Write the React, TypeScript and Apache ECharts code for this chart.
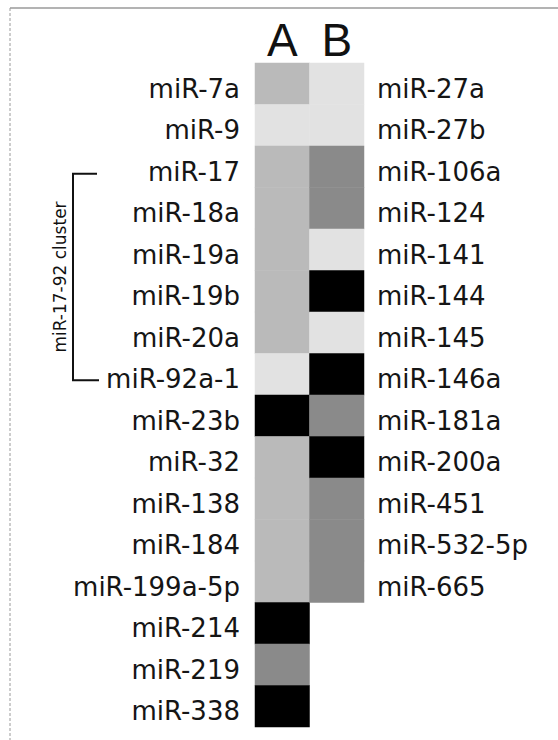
import React, { useEffect, useRef } from "react";
import * as echarts from "echarts";

const columns = ["A", "B"];
const rowsA = [
  "miR-7a", "miR-9", "miR-17", "miR-18a", "miR-19a", "miR-19b", "miR-20a", "miR-92a-1",
  "miR-23b", "miR-32", "miR-138", "miR-184", "miR-199a-5p", "miR-214", "miR-219", "miR-338",
];
const rowsB = [
  "miR-27a", "miR-27b", "miR-106a", "miR-124", "miR-141", "miR-144", "miR-145", "miR-146a",
  "miR-181a", "miR-200a", "miR-451", "miR-532-5p", "miR-665",
];
// intensity level: 1 light, 2 medium, 3 dark, 4 black
const levelsA = [2, 1, 2, 2, 2, 2, 2, 1, 4, 2, 2, 2, 2, 4, 3, 4];
const levelsB = [1, 1, 3, 3, 1, 4, 1, 4, 3, 4, 3, 3, 3];
const clusterFirst = "miR-17";
const clusterLast = "miR-92a-1";
const clusterName = "miR-17-92 cluster";

const FONT = "'DejaVu Sans', Verdana, sans-serif";
const HEAD_FONT = "'Liberation Sans', Arial, sans-serif";
const LABEL_SHIFT = 5;

export default function App() {
  const ref = useRef<HTMLDivElement>(null);
  useEffect(() => {
    if (!ref.current) return;
    const chart = echarts.init(ref.current, null, { renderer: "svg" });
    const data: number[][] = [];
    levelsA.forEach((v, i) => data.push([0, i, v]));
    levelsB.forEach((v, i) => data.push([1, i, v]));
    const rightLabels = rowsA.map((_, i) => (i < rowsB.length ? rowsB[i] : ""));
    const labelStyle = { fontSize: 26, color: "#151515", fontFamily: FONT };
    const hidden = {
      axisLine: { show: false },
      axisTick: { show: false },
      splitLine: { show: false },
    };
    chart.setOption({
      animation: false,
      backgroundColor: "#fff",
      grid: [
        { left: 255, right: 194, top: 63, bottom: 13 },
        { left: 255, right: 194, top: 63 + LABEL_SHIFT, bottom: 13 - LABEL_SHIFT },
      ],
      xAxis: [
        {
          type: "category",
          gridIndex: 0,
          data: columns,
          position: "top",
          ...hidden,
          axisLabel: { fontSize: 46, color: "#111", fontFamily: HEAD_FONT, margin: 0 },
        },
        { type: "category", gridIndex: 1, data: columns, show: false },
      ],
      yAxis: [
        {
          type: "category",
          gridIndex: 0,
          data: rowsA,
          inverse: true,
          ...hidden,
          axisLabel: { show: false },
        },
        {
          type: "category",
          gridIndex: 1,
          data: rowsA,
          inverse: true,
          ...hidden,
          axisLabel: { ...labelStyle, margin: 15 },
        },
        {
          type: "category",
          gridIndex: 1,
          data: rightLabels,
          inverse: true,
          position: "right",
          ...hidden,
          axisLabel: { ...labelStyle, margin: 13 },
        },
      ],
      visualMap: {
        type: "piecewise",
        show: false,
        dimension: 2,
        seriesIndex: 0,
        pieces: [
          { value: 1, color: "#e2e2e2" },
          { value: 2, color: "#bababa" },
          { value: 3, color: "#8a8a8a" },
          { value: 4, color: "#000000" },
        ],
      },
      series: [
        {
          type: "heatmap",
          xAxisIndex: 0,
          yAxisIndex: 0,
          data,
          itemStyle: { borderWidth: 0 },
          emphasis: { disabled: true },
        },
      ],
    });
    const yTop = (chart.convertToPixel({ yAxisIndex: 1 }, clusterFirst) as number) + 2;
    const yBot = (chart.convertToPixel({ yAxisIndex: 1 }, clusterLast) as number) + 1;
    chart.setOption({
      graphic: [
        {
          type: "line",
          shape: { x1: 10, y1: 8, x2: 558, y2: 8 },
          style: { stroke: "#9a9a9a", lineWidth: 1.5 },
        },
        {
          type: "line",
          shape: { x1: 10, y1: 8, x2: 10, y2: 740 },
          style: { stroke: "#9a9a9a", lineWidth: 1, lineDash: [3, 2] },
        },
        {
          type: "polyline",
          shape: { points: [[97, yTop], [73, yTop], [73, yBot], [99, yBot]] },
          style: { stroke: "#111", lineWidth: 2, fill: null },
        },
        {
          type: "text",
          x: 60,
          y: (yTop + yBot) / 2,
          rotation: Math.PI / 2,
          style: {
            text: clusterName,
            fontSize: 17,
            fill: "#111",
            fontFamily: FONT,
            align: "center",
            verticalAlign: "middle",
          },
        },
      ],
    });
    return () => chart.dispose();
  }, []);
  return (
    <div
      ref={ref}
      style={{ position: "fixed", left: 0, top: 0, width: 558, height: 740, background: "#fff" }}
    />
  );
}
